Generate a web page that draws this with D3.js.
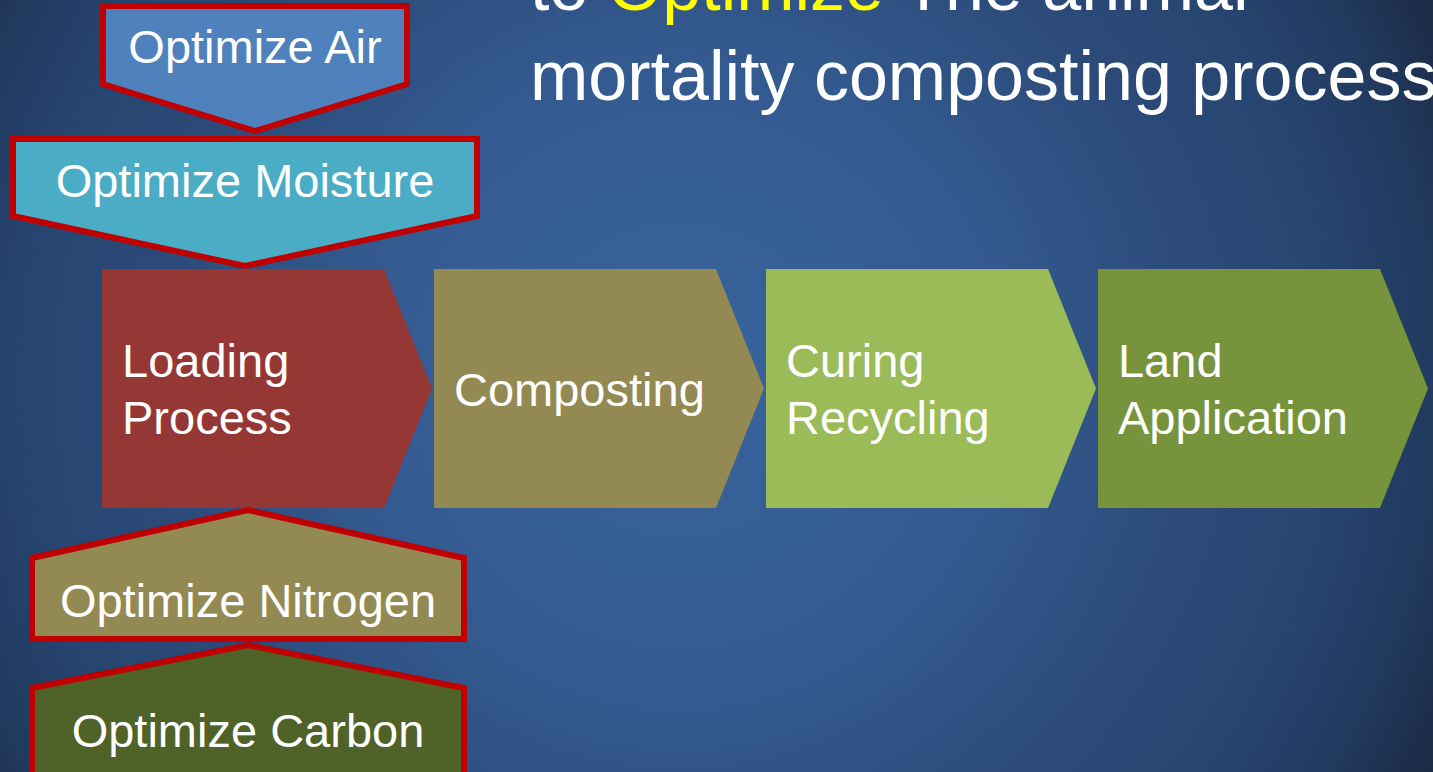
<!DOCTYPE html>
<html>
<head>
<meta charset="utf-8">
<script src="https://cdn.jsdelivr.net/npm/d3@7/dist/d3.min.js"></script>
<style>
  html, body { margin: 0; padding: 0; background: #1c2a45; overflow: hidden; }
  svg { display: block; }
  text { font-family: "Liberation Sans", Arial, sans-serif; fill: #ffffff; }
</style>
</head>
<body>
<svg id="chart" width="1433" height="772"></svg>
<script>
// ---- data ----
const titleLine1 = ["to ", "Optimize", " The animal"];
const titleLine1Highlight = [false, true, false];
const titleLine2 = "mortality composting process";

const steps = ["Loading Process", "Composting", "Curing Recycling", "Land Application"];
const stepLines = [["Loading", "Process"], ["Composting"], ["Curing", "Recycling"], ["Land", "Application"]];
const stepColors = ["#953735", "#938953", "#9bbb59", "#77933c"];

const inputsAbove = ["Optimize Air", "Optimize Moisture"];
const inputsAboveColors = ["#4f81bd", "#4bacc6"];
const inputsBelow = ["Optimize Nitrogen", "Optimize Carbon"];
const inputsBelowColors = ["#938953", "#4f6228"];

// ---- drawing ----
const W = 1433, H = 772;
const svg = d3.select("#chart");

// background radial gradient
const defs = svg.append("defs");
const grad = defs.append("radialGradient")
  .attr("id", "bg").attr("gradientUnits", "userSpaceOnUse")
  .attr("cx", 680).attr("cy", 380).attr("r", 880);
[[0, "#38649c"], [0.35, "#345b91"], [0.58, "#2c4b7a"], [0.74, "#264570"],
 [0.86, "#213a5e"], [0.95, "#1c2b47"], [1, "#1b2843"]].forEach(([o, c]) =>
  grad.append("stop").attr("offset", o).attr("stop-color", c));
svg.append("rect").attr("width", W).attr("height", H).attr("fill", "url(#bg)");

// title (first line is cropped at the top edge, as in the reference)
const t1 = svg.append("text").attr("x", 530).attr("y", 10)
  .style("font-size", "70px");
titleLine1.forEach((s, i) => {
  t1.append("tspan").text(s).style("fill", titleLine1Highlight[i] ? "#ffff00" : "#ffffff");
});
svg.append("text").attr("x", 530).attr("y", 100).style("font-size", "70px").text(titleLine2);

// main process chevrons
const x = d3.scaleBand().domain(steps).range([102, 1428]).paddingInner(0.006).paddingOuter(0);
const y = d3.scaleLinear().domain([0, 1]).range([269, 508]);
const bw = x.bandwidth();
const tip = 48;

const line = d3.line();
const g = svg.append("g");
steps.forEach((s, i) => {
  const x0 = x(s), x1 = x0 + bw;
  const pts = [[x0, y(0)], [x1 - tip, y(0)], [x1, y(0.5)], [x1 - tip, y(1)], [x0, y(1)]];
  g.append("path").attr("d", line(pts) + "Z").attr("fill", stepColors[i]);
  const lines = stepLines[i];
  const lh = 57;
  const mid = (y(0) + y(1)) / 2 + 17;
  const txt = g.append("text").attr("x", x0 + 20).style("font-size", "47px");
  lines.forEach((l, j) => {
    txt.append("tspan").attr("x", x0 + 20)
      .attr("y", mid + (j - (lines.length - 1) / 2) * lh).text(l);
  });
});

// inputs above (down arrows)
const aboveGeom = [
  { l: 103, r: 407, top: 6, sh: 84, tipY: 131, cx: 255, ty: 63 },
  { l: 13, r: 477, top: 139, sh: 216, tipY: 266, cx: 245, ty: 197 }
];
// inputs below (up arrows)
const belowGeom = [
  { l: 32, r: 464, tipY: 510, sh: 558, bot: 639, cx: 248, ty: 617 },
  { l: 32, r: 464, tipY: 645, sh: 688, bot: 790, cx: 248, ty: 747 }
];

const side = svg.append("g");
inputsAbove.slice().reverse().forEach((name, k) => {
  const i = inputsAbove.length - 1 - k;
  const o = aboveGeom[i];
  const pts = [[o.l, o.top], [o.r, o.top], [o.r, o.sh], [o.cx, o.tipY], [o.l, o.sh]];
  side.append("path").attr("d", line(pts) + "Z")
    .attr("fill", inputsAboveColors[i]).attr("stroke", "#c00000").attr("stroke-width", 6);
  side.append("text").attr("x", o.cx).attr("y", o.ty).attr("text-anchor", "middle")
    .style("font-size", "47px").text(name);
});
inputsBelow.forEach((name, i) => {
  const o = belowGeom[i];
  const pts = [[o.cx, o.tipY], [o.r, o.sh], [o.r, o.bot], [o.l, o.bot], [o.l, o.sh]];
  side.append("path").attr("d", line(pts) + "Z")
    .attr("fill", inputsBelowColors[i]).attr("stroke", "#c00000").attr("stroke-width", 6);
  side.append("text").attr("x", o.cx).attr("y", o.ty).attr("text-anchor", "middle")
    .style("font-size", "47px").text(name);
});
</script>
</body>
</html>
